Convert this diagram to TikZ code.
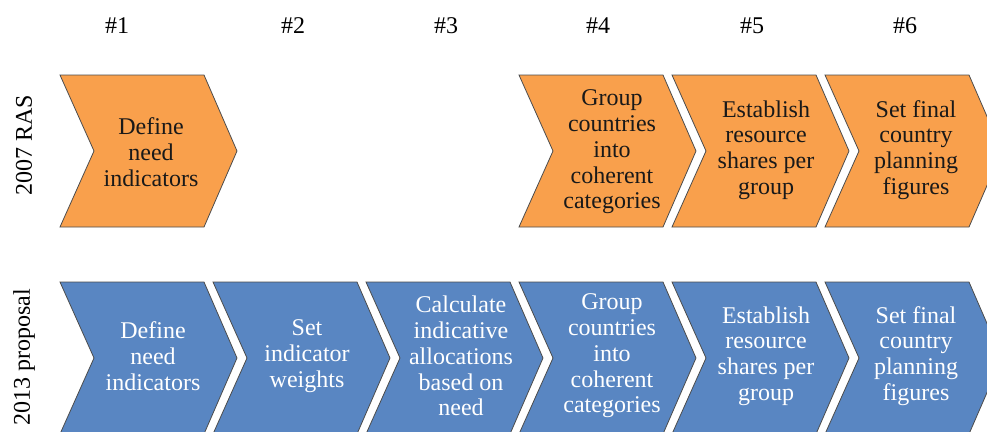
\documentclass[tikz,border=0pt]{standalone}
\usepackage{fontspec}
\setmainfont{Liberation Serif}
\begin{document}
\begin{tikzpicture}[x=1pt,y=-1pt,
  chevbase/.style={draw=black!70, line width=0.8pt, line join=miter},
  orangechev/.style={chevbase, fill=orangefill},
  bluechev/.style={chevbase, fill=bluefill},
  steptext/.style={align=center, font=\fontsize{24}{25.8}\selectfont, inner sep=0pt},
  darktext/.style={steptext, text=black!90},
  lighttext/.style={steptext, text=white},
  colhead/.style={font=\fontsize{24}{26}\selectfont, inner sep=0pt},
  rowhead/.style={font=\fontsize{24}{26}\selectfont, inner sep=0pt, rotate=90}
]
\definecolor{orangefill}{RGB}{249,160,76}
\definecolor{bluefill}{RGB}{89,134,194}
\useasboundingbox (0,0) rectangle (987,431);
\clip (0,0) rectangle (987,431);

% chevron outline: left edge L, top edge T
\newcommand{\chevpath}[2]{(#1,#2) -- ++(144,0) -- ++(33,76) -- ++(-33,76) -- ++(-144,0) -- ++(34,-76) -- cycle}

% column headings
\node[colhead] (h1) at (117,26) {\#1};
\node[colhead] (h2) at (293,26) {\#2};
\node[colhead] (h3) at (446,26) {\#3};
\node[colhead] (h4) at (598,26) {\#4};
\node[colhead] (h5) at (752,26) {\#5};
\node[colhead] (h6) at (905,26) {\#6};

% row headings
\node[rowhead] (r1) at (24,145) {2007 RAS};
\node[rowhead] (r2) at (24,357) {2013 proposal};

% 2007 RAS row
\draw[orangechev] \chevpath{60}{75};
\draw[orangechev] \chevpath{519}{75};
\draw[orangechev] \chevpath{672}{75};
\draw[orangechev] \chevpath{825}{75};
\node[darktext] (a1) at (151,152) {Define\\need\\indicators};
\node[darktext] (a4) at (612,152) {Group\\countries\\into\\coherent\\categories};
\node[darktext] (a5) at (766,150) {Establish\\resource\\shares per\\group};
\node[darktext] (a6) at (916,150) {Set final\\country\\planning\\figures};

% 2013 proposal row
\draw[bluechev] \chevpath{60}{282};
\draw[bluechev] \chevpath{213}{282};
\draw[bluechev] \chevpath{366}{282};
\draw[bluechev] \chevpath{519}{282};
\draw[bluechev] \chevpath{672}{282};
\draw[bluechev] \chevpath{825}{282};
\node[lighttext] (b1) at (153,356) {Define\\need\\indicators};
\node[lighttext] (b2) at (307,356) {Set\\indicator\\weights};
\node[lighttext] (b3) at (461,356) {Calculate\\indicative\\allocations\\based on\\need};
\node[lighttext] (b4) at (612,356) {Group\\countries\\into\\coherent\\categories};
\node[lighttext] (b5) at (766,356) {Establish\\resource\\shares per\\group};
\node[lighttext] (b6) at (916,356) {Set final\\country\\planning\\figures};
\end{tikzpicture}
\end{document}
